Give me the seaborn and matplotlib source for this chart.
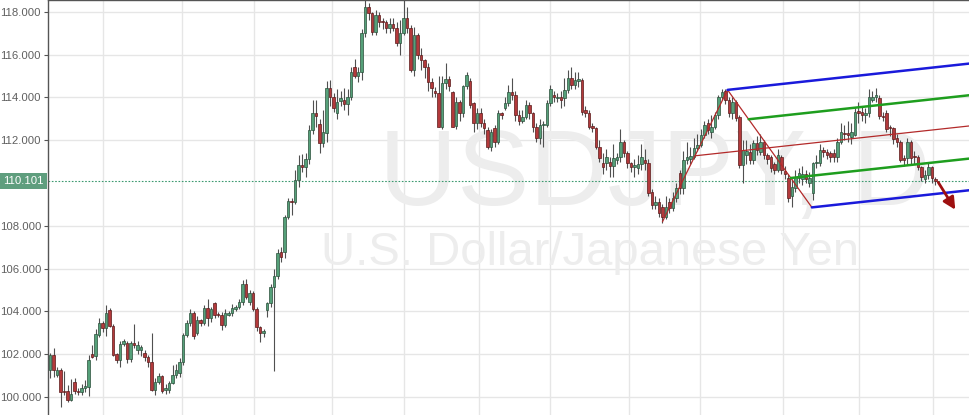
import numpy as np
import pandas as pd
import matplotlib
matplotlib.use("Agg")
import matplotlib.pyplot as plt
from matplotlib.patches import Rectangle
import seaborn as sns

# ---------------- data (daily USDJPY candles) ----------------
opens = [101.26, 101.95, 101.05, 101.26, 100.30, 100.28, 99.86, 100.71, 100.30, 100.25,
         100.40, 100.48, 102.00, 101.92, 102.90, 103.45, 103.22, 104.06, 103.30, 102.00,
         101.73, 102.48, 102.51, 101.77, 102.51, 102.20, 102.20, 102.07, 101.88, 101.65,
         100.33, 100.71, 100.98, 100.33, 100.35, 100.67, 101.03, 101.13, 101.65, 102.90,
         103.44, 103.94, 102.97, 103.60, 103.44, 104.14, 103.67, 104.38, 103.90, 103.83,
         103.36, 103.85, 103.91, 104.11, 104.22, 104.42, 105.28, 104.42, 104.84, 104.10,
         103.25, 102.97, 104.06, 104.37, 105.15, 105.65, 106.79, 106.79, 108.42, 109.16,
         109.10, 110.14, 110.85, 110.76, 111.10, 112.47, 113.25, 112.75, 111.88, 112.33,
         114.42, 114.03, 113.25, 113.83, 113.90, 113.70, 114.00, 115.40, 115.00, 115.20,
         117.00, 118.20, 117.93, 117.07, 117.85, 117.57, 117.50, 117.23, 117.43, 117.23,
         116.53, 117.00, 117.70, 117.23, 115.28, 116.91, 115.98, 115.75, 115.43, 114.73,
         114.30, 114.22, 112.63, 114.65, 114.84, 114.23, 112.66, 113.80, 113.25, 114.53,
         114.76, 113.72, 112.78, 113.25, 112.78, 112.47, 111.69, 112.55, 111.93, 113.25,
         113.50, 113.72, 114.26, 114.10, 113.20, 112.90, 113.10, 113.64, 113.25, 112.60,
         112.08, 112.70, 112.70, 113.72, 114.10, 113.95, 114.00, 113.95, 114.34, 114.90,
         114.60, 114.75, 114.82, 113.41, 113.26, 112.66, 112.56, 111.70, 110.95, 110.92,
         111.00, 110.80, 111.08, 111.23, 111.93, 111.39, 110.92, 110.73, 110.70, 110.90,
         111.08, 110.92, 109.60, 108.97, 109.13, 108.90, 108.43, 109.13, 108.82, 109.28,
         110.45, 109.75, 111.08, 111.10, 111.23, 111.62, 111.78, 112.25, 112.79, 112.40,
         112.63, 113.18, 114.04, 114.32, 113.88, 113.26, 113.80, 113.10, 110.84, 111.30,
         111.46, 111.07, 111.85, 111.46, 111.90, 111.30, 111.23, 110.90, 110.60, 111.20,
         110.55, 110.22, 109.37, 109.75, 110.22, 110.20, 110.40, 110.00, 109.52, 110.95,
         110.92, 111.54, 111.46, 111.38, 111.38, 111.23, 111.93, 112.35, 112.35, 112.15,
         112.25, 113.38, 113.30, 113.20, 113.25, 113.90, 114.00, 113.95, 113.13, 113.25,
         112.60, 112.55, 112.10, 111.93, 111.15, 111.15, 111.93, 111.25, 111.23, 110.73,
         110.20, 110.37, 110.73, 110.20]
highs = [102.05, 102.30, 101.40, 101.35, 101.20, 100.55, 100.85, 100.90, 100.40, 100.60,
         100.80, 101.95, 102.45, 103.20, 103.70, 103.55, 104.30, 104.14, 103.40, 102.05,
         102.60, 102.70, 102.60, 102.60, 103.40, 102.60, 102.45, 102.20, 101.95, 103.00,
         100.90, 101.10, 101.05, 100.60, 100.75, 101.50, 101.55, 101.80, 103.00, 103.60,
         104.10, 104.00, 103.80, 103.65, 104.30, 104.60, 104.20, 104.45, 103.95, 103.95,
         104.10, 104.00, 104.35, 104.30, 104.60, 105.48, 105.50, 105.00, 104.95, 104.20,
         103.30, 103.20, 104.45, 105.30, 106.00, 106.90, 107.00, 108.50, 109.30, 109.30,
         110.60, 111.30, 111.35, 111.40, 112.70, 113.90, 113.90, 113.00, 113.40, 114.75,
         114.80, 114.20, 114.40, 114.30, 114.45, 114.40, 115.40, 115.80, 115.40, 117.20,
         118.60, 118.40, 118.00, 118.10, 118.00, 117.70, 117.60, 117.70, 117.70, 117.50,
         117.60, 118.55, 118.20, 117.40, 117.30, 117.00, 116.30, 115.80, 115.60, 114.90,
         114.50, 115.00, 115.00, 115.60, 115.00, 114.30, 114.00, 113.90, 114.60, 115.20,
         114.90, 113.80, 113.50, 113.50, 113.00, 112.60, 112.50, 112.70, 113.40, 113.30,
         114.00, 114.60, 114.90, 114.30, 113.40, 113.40, 113.90, 113.80, 113.30, 112.80,
         113.00, 112.90, 113.90, 114.60, 114.30, 114.20, 114.30, 114.90, 115.30, 115.40,
         115.20, 115.20, 114.90, 113.60, 113.40, 112.80, 112.60, 112.00, 111.40, 111.60,
         111.20, 111.80, 111.40, 112.50, 112.00, 111.50, 111.00, 111.10, 111.30, 111.80,
         111.60, 111.10, 109.70, 109.40, 109.30, 109.00, 109.40, 109.30, 109.60, 110.00,
         110.60, 111.50, 111.90, 111.70, 112.10, 112.30, 112.50, 112.90, 113.00, 113.20,
         113.30, 114.10, 114.40, 114.37, 114.00, 114.00, 113.90, 113.20, 112.00, 112.00,
         111.80, 112.00, 112.20, 112.30, 112.00, 111.40, 111.30, 111.00, 111.60, 111.30,
         110.80, 110.40, 110.20, 110.60, 110.70, 110.80, 110.60, 110.50, 111.00, 111.30,
         111.80, 111.70, 111.60, 111.50, 111.60, 112.10, 112.80, 112.70, 112.90, 112.80,
         113.50, 113.80, 113.60, 113.50, 114.40, 114.30, 114.45, 114.10, 113.30, 113.40,
         112.70, 112.60, 112.30, 112.00, 111.30, 112.10, 112.00, 111.50, 111.30, 110.80,
         110.60, 111.00, 110.80, 110.30]
lows = [100.90, 100.95, 100.95, 99.55, 100.10, 99.75, 99.80, 100.15, 100.10, 100.10,
        100.25, 100.05, 101.80, 101.75, 102.80, 103.05, 102.85, 103.25, 101.90, 101.60,
        101.42, 102.40, 101.60, 101.65, 102.30, 102.00, 101.90, 101.70, 101.40, 100.30,
        100.10, 100.60, 100.20, 100.15, 100.20, 100.60, 100.90, 100.95, 101.50, 102.80,
        103.30, 102.70, 102.90, 103.30, 103.35, 103.30, 103.50, 103.70, 103.75, 103.15,
        103.25, 103.80, 103.80, 104.00, 104.10, 104.30, 104.60, 104.30, 104.00, 103.10,
        102.55, 102.80, 103.75, 104.20, 101.20, 105.50, 106.30, 106.50, 108.30, 108.50,
        109.00, 109.80, 110.50, 110.30, 110.90, 112.30, 112.60, 111.40, 111.70, 111.90,
        113.60, 113.30, 113.00, 113.60, 113.40, 113.20, 113.90, 114.90, 114.70, 114.80,
        116.80, 117.60, 116.90, 116.90, 117.30, 117.20, 117.00, 117.00, 117.10, 116.40,
        116.00, 116.90, 117.00, 115.20, 115.00, 115.80, 115.30, 114.90, 114.30, 114.00,
        114.00, 112.60, 112.50, 114.40, 114.30, 112.60, 112.50, 112.90, 113.10, 114.40,
        113.50, 112.40, 112.50, 112.60, 112.30, 111.60, 111.50, 111.70, 111.80, 113.00,
        113.40, 113.60, 113.90, 112.90, 112.70, 112.80, 113.00, 113.00, 112.40, 111.90,
        111.80, 111.70, 112.60, 113.60, 113.80, 113.80, 113.50, 113.60, 114.20, 114.40,
        114.40, 114.50, 113.20, 113.10, 112.50, 112.40, 111.60, 111.00, 110.40, 110.60,
        110.30, 110.30, 110.90, 111.00, 111.20, 110.70, 110.50, 110.30, 110.40, 110.60,
        110.60, 109.40, 108.80, 108.80, 108.40, 108.15, 108.30, 108.60, 108.70, 109.10,
        109.50, 109.50, 110.90, 110.90, 111.10, 111.50, 111.70, 112.10, 112.30, 112.10,
        112.50, 113.00, 113.90, 113.70, 113.10, 113.00, 112.90, 110.70, 110.00, 110.90,
        110.90, 110.90, 111.30, 111.30, 111.10, 110.90, 110.50, 110.40, 110.50, 110.40,
        110.20, 109.10, 108.90, 109.60, 110.00, 109.90, 110.00, 109.80, 109.20, 110.70,
        110.80, 111.20, 111.10, 111.00, 111.00, 111.00, 111.80, 112.00, 111.90, 111.80,
        112.20, 112.80, 112.90, 112.80, 113.10, 113.80, 113.80, 113.00, 112.90, 112.40,
        112.20, 111.80, 111.70, 111.00, 110.80, 110.90, 110.90, 110.90, 110.60, 110.10,
        110.00, 110.20, 110.00, 109.90]
closes = [101.95, 101.26, 101.25, 100.25, 100.25, 99.86, 100.15, 100.30, 100.22, 100.40,
          100.53, 101.73, 101.88, 102.93, 103.45, 103.22, 103.91, 103.30, 101.96, 101.73,
          102.48, 102.64, 101.77, 102.51, 102.42, 102.45, 102.35, 101.88, 101.65, 100.33,
          100.71, 100.98, 100.30, 100.42, 100.67, 101.03, 101.26, 101.65, 102.90, 103.44,
          103.91, 102.87, 103.60, 103.44, 104.14, 103.67, 104.10, 103.83, 103.83, 103.36,
          103.91, 103.91, 104.14, 104.22, 104.42, 105.28, 104.69, 104.84, 104.10, 103.25,
          102.97, 103.08, 104.40, 105.15, 105.65, 106.74, 106.55, 108.42, 109.16, 109.10,
          110.14, 110.85, 110.75, 111.10, 112.47, 113.25, 113.15, 111.88, 112.37, 114.42,
          114.03, 113.49, 113.80, 113.95, 113.70, 114.00, 115.20, 115.00, 115.20, 117.00,
          118.20, 117.93, 117.07, 117.85, 117.54, 117.50, 117.23, 117.43, 117.23, 116.53,
          117.00, 117.70, 117.23, 115.28, 116.91, 115.98, 115.75, 115.43, 114.73, 114.42,
          114.22, 112.63, 114.68, 114.84, 114.55, 112.63, 113.80, 113.25, 114.53, 115.04,
          113.64, 112.78, 113.25, 112.78, 112.55, 111.69, 112.39, 111.93, 113.25, 113.20,
          113.75, 114.26, 114.10, 113.20, 112.90, 113.10, 113.64, 113.25, 112.60, 112.08,
          112.70, 112.75, 113.72, 114.37, 114.00, 114.00, 113.90, 114.34, 114.90, 114.60,
          114.80, 114.85, 113.34, 113.26, 112.63, 112.56, 111.70, 111.15, 110.75, 111.23,
          110.80, 111.15, 111.23, 111.93, 111.39, 110.92, 110.73, 110.85, 110.90, 111.23,
          110.92, 109.52, 108.97, 109.13, 108.58, 108.43, 108.90, 108.82, 109.28, 109.75,
          109.75, 111.08, 111.23, 111.25, 111.62, 111.78, 112.25, 112.71, 112.48, 112.63,
          113.18, 114.04, 114.27, 113.88, 113.26, 113.80, 113.02, 110.84, 111.54, 111.50,
          111.07, 111.85, 111.54, 111.90, 111.30, 111.10, 110.70, 110.60, 111.30, 110.60,
          110.40, 109.30, 109.83, 110.30, 110.45, 110.40, 110.20, 110.25, 110.95, 111.00,
          111.54, 111.46, 111.30, 111.23, 111.20, 111.93, 112.40, 112.30, 112.25, 112.40,
          113.33, 113.25, 113.20, 113.25, 114.03, 114.03, 114.10, 113.13, 113.10, 112.50,
          112.55, 112.05, 111.90, 111.07, 111.07, 111.93, 111.15, 111.20, 110.73, 110.30,
          110.37, 110.73, 110.22, 110.10]

price_ticks = [100, 102, 104, 106, 108, 112, 114, 116, 118]
last_price = 110.101
month_starts = [15, 37.6, 58.3, 80.6, 101.1, 122.6, 142.9, 165.4, 185.7, 209.4, 231.1, 252.3]
symbol_text = "USDJPY, D"
name_text = "U.S. Dollar/Japanese Yen"
# pitchfork pivots (bar index, price) and slope of its tines (price per bar)
pivot_a = (175.0, 108.19)
pivot_b = (193.6, 114.35)
pivot_c = (217.7, 108.86)
fork_slope = 0.0178
arrow_from = (253.4, 110.14)
arrow_to = (259.1, 108.64)

# ---------------- style ----------------
sns.set_theme(style="white")
plt.rcParams["font.family"] = ["Liberation Sans", "DejaVu Sans"]

W, H = 969, 415
fig = plt.figure(figsize=(W / 100, H / 100), dpi=100)
ax = fig.add_axes([48 / W, 0, 1 - 48 / W, 1])
x_lo, x_hi = -0.6, 262.6
y_lo, y_hi = 99.16, 118.55
ax.set_xlim(x_lo, x_hi)
ax.set_ylim(y_lo, y_hi)

df = pd.DataFrame({"o": opens, "h": highs, "l": lows, "c": closes})
df["i"] = np.arange(len(df))
df["up"] = df["c"] >= df["o"]

# grid
for v in price_ticks:
    ax.axhline(v, color="#e6e6e6", lw=1.0, zorder=0)
for m in month_starts:
    ax.axvline(m, color="#e6e6e6", lw=1.0, zorder=0)

# watermark
ax.text(0.676, 0.574, symbol_text, transform=fig.transFigure, ha="center", va="center",
        fontsize=78, color="#ededed", zorder=0.5)
ax.text(0.609, 0.39, name_text, transform=fig.transFigure, ha="center", va="center",
        fontsize=34, color="#ededed", zorder=0.5)

# candles
ax.vlines(df["i"], df["l"], df["h"], color="#505050", lw=0.8, zorder=2)
bottoms = np.minimum(df["o"], df["c"])
heights = np.maximum(np.abs(df["c"] - df["o"]), 0.05)
up = df["up"].values
ax.bar(df["i"][up], heights[up], bottom=bottoms[up], width=0.75,
       color="#55a079", edgecolor="#2b4f3b", linewidth=0.5, zorder=3)
ax.bar(df["i"][~up], heights[~up], bottom=bottoms[~up], width=0.75,
       color="#b3393b", edgecolor="#5a1a1a", linewidth=0.5, zorder=3)

# pitchfork
ax_, ay_ = pivot_a
bx_, by_ = pivot_b
cx_, cy_ = pivot_c
def pt_on_bc(t):
    return bx_ + t * (cx_ - bx_), by_ + t * (cy_ - by_)
def tine(x0, y0):
    return pd.DataFrame({"x": [x0, x_hi], "y": [y0, y0 + fork_slope * (x_hi - x0)]})

red_thin = pd.concat([
    pd.DataFrame({"x": [ax_, bx_, cx_], "y": [ay_, by_, cy_], "line": "handle"}),
    tine((ax_ + bx_) / 2, (ay_ + by_) / 2).assign(line="median"),
])
sns.lineplot(data=red_thin, x="x", y="y", units="line", estimator=None, sort=False,
             color="#b32a2a", lw=0.9, ax=ax, zorder=4)
outer = pd.concat([tine(bx_, by_).assign(line="upper"), tine(cx_, cy_).assign(line="lower")])
sns.lineplot(data=outer, x="x", y="y", units="line", estimator=None, sort=False,
             color="#1a1adb", lw=1.8, ax=ax, zorder=4)
g1 = pt_on_bc(0.25)
g2 = pt_on_bc(0.75)
inner = pd.concat([tine(*g1).assign(line="g1"), tine(*g2).assign(line="g2")])
sns.lineplot(data=inner, x="x", y="y", units="line", estimator=None, sort=False,
             color="#1e9e1e", lw=1.8, ax=ax, zorder=4)

# arrow
ax.annotate("", xy=arrow_to, xytext=arrow_from,
            arrowprops=dict(arrowstyle="-|>,head_length=0.6,head_width=0.3",
                            color="#9e1010", lw=2.0), zorder=5)

# last price line and label
ax.axhline(last_price, color="#3d9a70", lw=0.8, ls=(0, (1.5, 1.5)), zorder=1)
y_frac = (last_price - y_lo) / (y_hi - y_lo)
fig.patches.append(Rectangle((0, y_frac - 8 / H), 47 / W, 16 / H, transform=fig.transFigure,
                             facecolor="#5f9e7e", edgecolor="none", zorder=10))
fig.text(23.5 / W, y_frac, f"{last_price:.3f}", ha="center", va="center",
         color="white", fontsize=8.2, zorder=11)

# axes decoration
ax.set_yticks(price_ticks)
ax.set_yticklabels([f"{v:.3f}" for v in price_ticks])
ax.set_xticks([])
ax.tick_params(axis="y", which="both", left=True, length=3, width=0.8, color="#555555",
               labelsize=8.2, labelcolor="#606060", pad=2)
ax.set_xlabel("")
ax.set_ylabel("")
for side in ["right", "bottom"]:
    ax.spines[side].set_visible(False)
ax.spines["left"].set_color("#555555")
ax.spines["left"].set_linewidth(1.0)
ax.spines["top"].set_color("#555555")
ax.spines["top"].set_linewidth(1.0)

fig.savefig("out.png", dpi=100)
